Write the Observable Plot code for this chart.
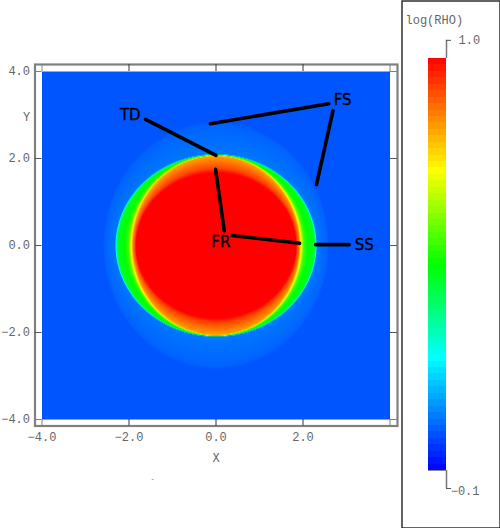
<!DOCTYPE html>
<html>
<head>
<meta charset="utf-8">
<script src="https://cdn.jsdelivr.net/npm/d3@7"></script>
<script src="https://cdn.jsdelivr.net/npm/@observablehq/plot@0.6"></script>
<style>
html,body{margin:0;padding:0;background:#fff;width:500px;height:528px;overflow:hidden}
#field,#bar{position:absolute;top:0}
#field{left:0}
#bar{left:400px}
svg{display:block}
</style>
</head>
<body>
<div id="field"></div>
<div id="bar"></div>
<script>
// Axis ticks and limits
const tickValues = [-4, -2, 0, 2];
const yTickValues = [-4, -2, 0, 2, 4];
const boxTicks = [-2, 0, 2];
const cornerTicks = [-4, 4];
const xDomain = [-4.161, 4.172];
const yDomain = [-4.149, 4.161];
const dataExtent = [-4, 4];

// Colour table of log(RHO)
const colorStops = [-0.1, 0.2, 0.447, 0.7, 1.0];
const colorRange = ["#0000ff", "#00ffff", "#00ff00", "#ffff00", "#ff0000"];
const barLevels = 64;

// Density contours, outermost first
const contourA = [2.60, 2.56, 2.42, 2.32, 2.30, 2.27, 2.12, 2.02, 1.95, 1.92, 1.90, 1.87, 1.84];
const contourB = [2.85, 2.78, 2.42, 2.10, 2.09, 2.085, 2.08, 2.075, 2.07, 2.055, 1.90, 1.77, 1.67];
const contourV = [0.0, 0.016, 0.03, 0.04, 0.20, 0.41, 0.44, 0.50, 0.70, 0.81, 0.87, 0.92, 1.0];

// Annotations
const labelNames = ["TD", "FS", "FR", "SS"];
const labelX = [-1.97, 2.91, 0.11, 3.41];
const labelY = [2.99, 3.33, 0.07, 0.0];
const leaderX1 = [-1.62, -0.13, 2.69, -0.01, 0.37, 2.29];
const leaderY1 = [2.90, 2.80, 3.10, 1.75, 0.23, 0.02];
const leaderX2 = [0.0, 2.59, 2.31, 0.19, 1.92, 3.06];
const leaderY2 = [2.07, 3.26, 1.40, 0.34, 0.05, 0.02];

const mono = "'Liberation Mono', 'DejaVu Sans Mono', monospace";
const grey = "#666666";
const colorScale = {type: "linear", domain: colorStops, range: colorRange, clamp: true};

function density(x, y) {
  const r = Math.hypot(x, y) || 1e-6;
  const ux = x / r, uy = y / r;
  const radius = (k) => contourA[k] * contourB[k] / Math.hypot(contourB[k] * ux, contourA[k] * uy);
  let prev = radius(0);
  if (r >= prev) return contourV[0];
  for (let k = 1; k < contourV.length; k++) {
    const cur = radius(k);
    if (r >= cur) {
      const t = (prev - r) / Math.max(prev - cur, 1e-6);
      return contourV[k - 1] + t * (contourV[k] - contourV[k - 1]);
    }
    prev = cur;
  }
  return contourV[contourV.length - 1];
}

const fmt = d3.format(".1f");
const field = Plot.plot({
  width: 400, height: 528,
  marginLeft: 34.5, marginRight: 3, marginTop: 64, marginBottom: 102.5,
  style: {fontFamily: mono, fontSize: "12px", color: grey, background: "transparent"},
  x: {domain: xDomain, label: null},
  y: {domain: yDomain, label: null},
  color: colorScale,
  marks: [
    Plot.raster({x1: dataExtent[0], x2: dataExtent[1], y1: dataExtent[0], y2: dataExtent[1], fill: density, pixelSize: 1, interpolate: "none"}),
    Plot.frame({stroke: "#808080", strokeWidth: 2.2}),
    Plot.ruleX(cornerTicks, {y1: yDomain[0], y2: dataExtent[0], stroke: "#808080"}),
    Plot.ruleX(cornerTicks, {y1: dataExtent[1], y2: yDomain[1], stroke: "#808080"}),
    Plot.ruleY(cornerTicks, {x1: xDomain[0], x2: dataExtent[0], stroke: "#808080"}),
    Plot.ruleY(cornerTicks, {x1: dataExtent[1], x2: xDomain[1], stroke: "#808080"}),
    Plot.ruleX(boxTicks, {y1: yDomain[0], y2: dataExtent[0], stroke: "#333"}),
    Plot.ruleX(boxTicks, {y1: dataExtent[1], y2: yDomain[1], stroke: "#333"}),
    Plot.ruleY(boxTicks, {x1: xDomain[0], x2: dataExtent[0], stroke: "#555"}),
    Plot.ruleY(boxTicks, {x1: dataExtent[1], x2: xDomain[1], stroke: "#555"}),
    Plot.axisX({ticks: tickValues, tickSize: 0, tickPadding: 6, tickFormat: fmt, label: null, anchor: "bottom"}),
    Plot.axisY({ticks: yTickValues, tickSize: 0, tickPadding: 5, tickFormat: fmt, label: null, anchor: "left"}),
    Plot.text(["X"], {x: 0, y: yDomain[0], dy: 32, fill: grey, fontFamily: mono, fontSize: 12}),
    Plot.text(["Y"], {x: xDomain[0], y: 2.94, dx: -8.5, fill: grey, fontFamily: mono, fontSize: 12}),
    Plot.text(["-"], {x: -1.46, y: -5.38, fill: "#222", fontFamily: mono, fontSize: 6}),
    Plot.link(d3.range(leaderX1.length), {
      x1: (i) => leaderX1[i], y1: (i) => leaderY1[i],
      x2: (i) => leaderX2[i], y2: (i) => leaderY2[i],
      stroke: "#000", strokeWidth: 3.6, strokeLinecap: "round"
    }),
    Plot.text(labelNames, {
      x: (d, i) => labelX[i], y: (d, i) => labelY[i], text: (d) => d,
      fill: "#000", stroke: "#000", strokeWidth: 0.35,
      fontFamily: "'DejaVu Sans', sans-serif", fontSize: 15
    })
  ]
});
document.getElementById("field").append(field);

// Colour bar
const barTop = 1.0, barBottom = -0.1;
const stemTop = 1.0485, stemBottom = -0.148;
const levelStep = (barTop - barBottom) / barLevels;
const levels = d3.range(barLevels).map((i) => barBottom + i * levelStep);

const bar = Plot.plot({
  width: 100, height: 528,
  marginLeft: 1.5, marginRight: 0.5, marginTop: 0.5, marginBottom: 0.5,
  style: {fontFamily: mono, fontSize: "12px", color: grey, background: "transparent"},
  x: {domain: [0, 1], range: [28, 46], axis: null},
  y: {domain: [barBottom, barTop], range: [470, 58], axis: null},
  color: colorScale,
  marks: [
    Plot.frame({stroke: "#222", strokeWidth: 1.4}),
    Plot.rect(levels, {x1: 0, x2: 1, y1: (d) => d, y2: (d) => d + levelStep, fill: (d) => d + levelStep / 2, shapeRendering: "crispEdges"}),
    Plot.ruleX([1], {y1: barTop, y2: stemTop, stroke: "#777", strokeWidth: 1.5}),
    Plot.ruleX([1], {y1: barBottom, y2: stemBottom, stroke: "#777", strokeWidth: 1.5}),
    Plot.ruleY([stemTop, stemBottom], {x1: 1, x2: 1.28, stroke: "#555"}),
    Plot.ruleY([barBottom], {x1: 0, x2: 1, stroke: "#888"}),
    Plot.text(["log(RHO)"], {frameAnchor: "top-left", dx: 3.5, dy: 14.5, fill: grey, fontFamily: mono, fontSize: 12}),
    Plot.text([barTop], {x: 1, y: stemTop, dx: 12, text: fmt, textAnchor: "start", fill: grey, fontFamily: mono, fontSize: 12}),
    Plot.text([barBottom], {x: 1, y: stemBottom, dx: 33, dy: 3, text: fmt, textAnchor: "end", fill: grey, fontFamily: mono, fontSize: 12})
  ]
});
document.getElementById("bar").append(bar);
</script>
</body>
</html>
